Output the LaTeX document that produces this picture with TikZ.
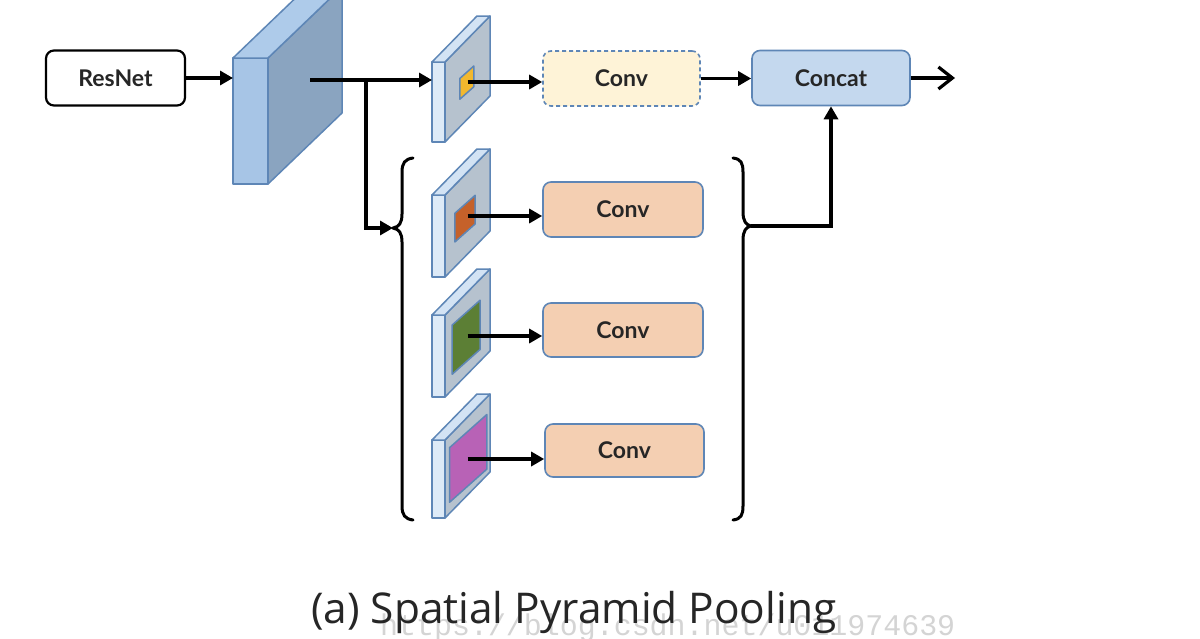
\documentclass[tikz,border=0pt]{standalone}
\usepackage{fontspec}
\setmainfont{Lato}
\newfontfamily\capfont{Open Sans}
\newfontfamily\wmfont{Liberation Mono}
\usetikzlibrary{arrows.meta,calc}
\definecolor{edgeblue}{HTML}{5E86B6}
\definecolor{blockfront}{HTML}{A7C5E6}
\definecolor{blockside}{HTML}{8AA4C0}
\definecolor{blocktop}{HTML}{AECBEA}
\definecolor{platefront}{HTML}{DDEAF7}
\definecolor{plateside}{HTML}{B6C2CE}
\definecolor{platetop}{HTML}{D3E3F4}
\definecolor{convfill}{HTML}{F4CFB2}
\definecolor{dashfill}{HTML}{FEF3D7}
\definecolor{concatfill}{HTML}{C4D8EE}
\definecolor{pyellow}{HTML}{F2B82E}
\definecolor{porange}{HTML}{C5612A}
\definecolor{pgreen}{HTML}{5C7F35}
\definecolor{pmagenta}{HTML}{B862B6}
\definecolor{wmgray}{HTML}{D4D4D4}
\newcommand\drawplate[9]{%
  \path[draw=edgeblue,line width=1.5pt,line join=round,fill=platefront]
    ({#1-13},#2) rectangle (#1,{#2-#3});
  \path[draw=edgeblue,line width=1.5pt,line join=round,fill=plateside]
    (#1,#2) -- ({#1+45},{#2-46}) -- ({#1+45},{#2-46-#3}) -- (#1,{#2-#3}) -- cycle;
  \path[draw=edgeblue,line width=1.5pt,line join=round,fill=platetop]
    ({#1-13},{#2-#3}) -- (#1,{#2-#3}) -- ({#1+45},{#2-#3-46}) -- ({#1+32},{#2-#3-46}) -- cycle;
  \path[draw=edgeblue,line width=1.5pt,line join=round,fill=#4]
    ({#1+#5*45},{#2-#5*40-#7*#3}) -- ({#1+#6*45},{#2-#6*40-#7*#3}) --
    ({#1+#6*45},{#2-#6*40-#8*#3}) -- ({#1+#5*45},{#2-#5*40-#8*#3}) -- cycle;
  \coordinate (#9) at ({#1+22.5},{#2-20-#3/2});
}
\tikzset{
  arr/.style={line width=3.2pt,-{Triangle[length=13pt,width=14pt]}},
  lbl/.style={font=\fontsize{23}{26}\selectfont\bfseries,text=black!85},
  box/.style={rounded corners=8pt,line width=1.6pt,draw=edgeblue,minimum height=55pt,lbl},
  brace/.style={line width=3pt,line join=round,line cap=round}
}
\begin{document}
\begin{tikzpicture}[x=1pt,y=-1pt]
\useasboundingbox[fill=white] (0,0) rectangle (1200,638);
% ResNet
\node[box,draw=black,line width=2.2pt,minimum width=139pt,fill=white] (resnet) at (115.5,78) {ResNet};
% big block
\path[draw=edgeblue,line width=1.5pt,line join=round,fill=blockfront] (233,58) rectangle (268,184);
\path[draw=edgeblue,line width=1.5pt,line join=round,fill=blockside] (268,58) -- (342,-13) -- (342,113) -- (268,184) -- cycle;
\path[draw=edgeblue,line width=1.5pt,line join=round,fill=blocktop] (233,58) -- (307,-13) -- (342,-13) -- (268,58) -- cycle;
\coordinate (blockin) at (233,78);
\coordinate (blockc) at (310,80);
% plates
\drawplate{445}{142}{80}{pyellow}{0.33}{0.64}{0.37}{0.63}{p1}
\drawplate{445}{277}{82}{porange}{0.22}{0.67}{0.32}{0.67}{p2}
\drawplate{445}{397}{82}{pgreen}{0.16}{0.78}{0.2}{0.8}{p3}
\drawplate{445}{518}{78}{pmagenta}{0.1}{0.93}{0.15}{0.85}{p4}
\coordinate (p1in) at (432,80);
% boxes
\node[box,dash pattern=on 4pt off 3pt,fill=dashfill,minimum width=157pt] (conv1) at (621.5,78.5) {Conv};
\node[box,fill=concatfill,minimum width=158pt] (concat) at (831,78) {Concat};
\node[box,fill=convfill,minimum width=160pt] (conv2) at (623,209.5) {Conv};
\node[box,fill=convfill,minimum width=160pt,minimum height=54pt] (conv3) at (623,330) {Conv};
\node[box,fill=convfill,minimum width=159pt,minimum height=53pt] (conv4) at (624.5,450.5) {Conv};
% braces
\coordinate (ltip) at (393,228);
\coordinate (rtip) at (751,226);
\draw[brace] (413,158) .. controls (405,159) and (402,163) .. (402,172) -- (402,214)
  .. controls (402,223) and (399,227) .. (ltip)
  .. controls (399,229) and (402,233) .. (402,242) -- (402,506)
  .. controls (402,515) and (405,519) .. (413,520);
\draw[brace] (733,158) .. controls (741,159) and (743,163) .. (743,172) -- (743,212)
  .. controls (743,221) and (746,225) .. (rtip)
  .. controls (746,227) and (743,231) .. (743,240) -- (743,506)
  .. controls (743,515) and (741,519) .. (733,520);
% connectors
\draw[arr] (resnet.east) -- (resnet.east -| blockin);
\draw[arr] (blockc) -- (p1in);
\coordinate (br) at (366,80);
\draw[arr] (br) |- (ltip);
\draw[arr] (p1) -- (p1 -| conv1.west);
\draw[arr] (p2) -- (p2 -| conv2.west);
\draw[arr] (p3) -- (p3 -| conv3.west);
\draw[arr] (p4) -- (p4 -| conv4.west);
\draw[arr] (conv1.east) -- (conv1.east -| concat.west);
\draw[arr] (rtip) -| (concat.south);
\coordinate (out) at (955,78);
\draw[line width=3.2pt,-{Straight Barb[length=14pt,width=22pt,line width=3.2pt]}] (concat.east) -- (out);
% watermark and caption
\node[anchor=base west,inner sep=0pt,text=wmgray] (wm) at (380,635) {\resizebox{575pt}{!}{\wmfont https://blog.csdn.net/u011974639}};
\node[anchor=base west,inner sep=0pt,text=black!85] (cap) at (311,623) {\resizebox{525pt}{!}{\capfont (a) Spatial Pyramid Pooling}};
\end{tikzpicture}
\end{document}
